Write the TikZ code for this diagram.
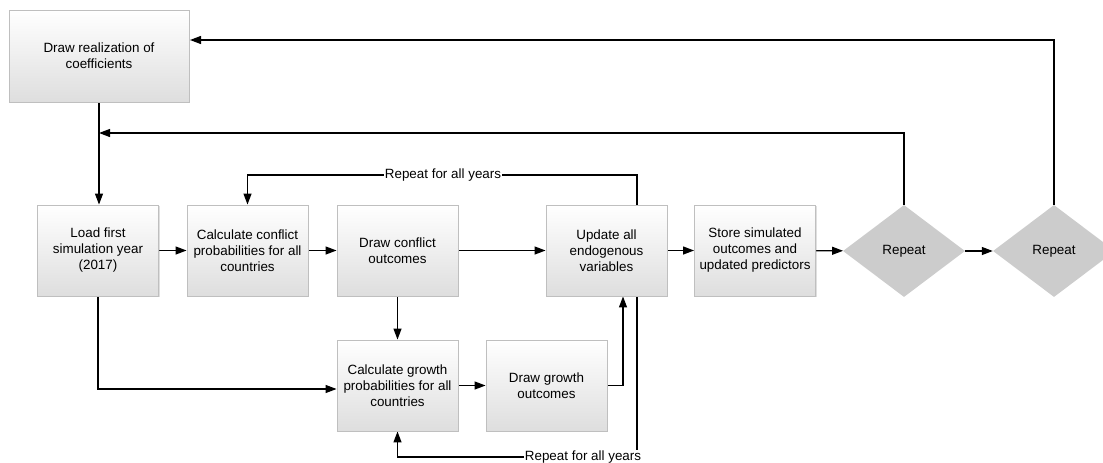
\documentclass[tikz,border=0pt]{standalone}
\usepackage{fontspec}
\setmainfont{Liberation Sans}
\usetikzlibrary{arrows.meta,shapes.geometric,shadows,backgrounds}

\tikzset{
  every node/.style={font=\fontsize{13.4}{16}\selectfont, inner sep=1pt},
  stepbox/.style={rectangle, draw=black!25, line width=0.9pt, align=center,
    minimum width=121pt, minimum height=91pt,
    top color=white, middle color=white, bottom color=black!13,
    drop shadow={shadow xshift=1.2pt, shadow yshift=-1.2pt, opacity=0.25}},
  choice/.style={diamond, fill=black!20, minimum width=122pt, minimum height=92pt,
    aspect=1.33, inner sep=0pt},
  arr/.style={-{Triangle[length=11pt,width=8pt]}},
  conn/.style={line width=1.2pt}
}

\begin{document}
\begin{tikzpicture}[x=1pt,y=-1pt]
\useasboundingbox (0,0) rectangle (1103,463);
\clip (0,0) rectangle (1103,463);
% boxes
\node [stepbox, minimum width=180pt, minimum height=92pt] (realize) at (99,56) {Draw realization of\\coefficients};
\node [stepbox] (load) at (98,250.5) {Load first\\simulation year\\(2017)};
\node [stepbox] (conflictprob) at (247.5,250.5) {Calculate conflict\\probabilities for all\\countries};
\node [stepbox] (conflictdraw) at (397.5,250.5) {Draw conflict\\outcomes};
\node [stepbox] (update) at (606.5,250.5) {Update all\\endogenous\\variables};
\node [stepbox] (store) at (755,250.5) {Store simulated\\outcomes and\\updated predictors};
\node [choice] (repeatA) at (904,251) {Repeat};
\node [choice] (repeatB) at (1054,251) {Repeat};
\node [stepbox] (growthprob) at (397.5,385.5) {Calculate growth\\probabilities for all\\countries};
\node [stepbox] (growthdraw) at (546.5,385.5) {Draw growth\\outcomes};
% labels and loose ends
\node [fill=white] (lblTop) at (443,175) {Repeat for all years};
\node [fill=white] (lblBot) at (583,457) {Repeat for all years};
\coordinate (backA) at (99,133);
\coordinate (backB) at (190,40);

\begin{scope}[on background layer]
% main row
\draw [conn,arr] (realize.south) -- (realize.south |- load.north);
\draw [conn,arr] (load) -- (conflictprob);
\draw [conn,arr] (conflictprob) -- (conflictdraw);
\draw [conn,arr] (conflictdraw) -- (update);
\draw [conn,arr] (update) -- (store);
\draw [conn,arr] (store) -- (repeatA);
\draw [conn,arr] (repeatA) -- (repeatB);
% outer loops
\draw [conn,arr] (repeatA.north) |- (backA);
\draw [conn,arr] (repeatB.north) |- (backB);
% yearly loop, top
\draw [conn] ([xshift=30.5pt]update.north) |- (lblTop.east);
\draw [conn,arr] (lblTop.west) -| (conflictprob.north);
% growth branch
\draw [conn,arr] (conflictdraw.south) -- (growthprob.north);
\draw [conn,arr] (load.south) |- ([yshift=-3.5pt]growthprob.west);
\draw [conn,arr] (growthprob) -- (growthdraw);
\draw [conn,arr] (growthdraw.east) -| ([xshift=16.5pt]update.south);
% yearly loop, bottom
\draw [conn] ([xshift=30.5pt]update.south) -- ([xshift=30.5pt]update.south |- lblBot.north);
\draw [conn,arr] (lblBot.west) -| (growthprob.south);
\end{scope}
\end{tikzpicture}
\end{document}
